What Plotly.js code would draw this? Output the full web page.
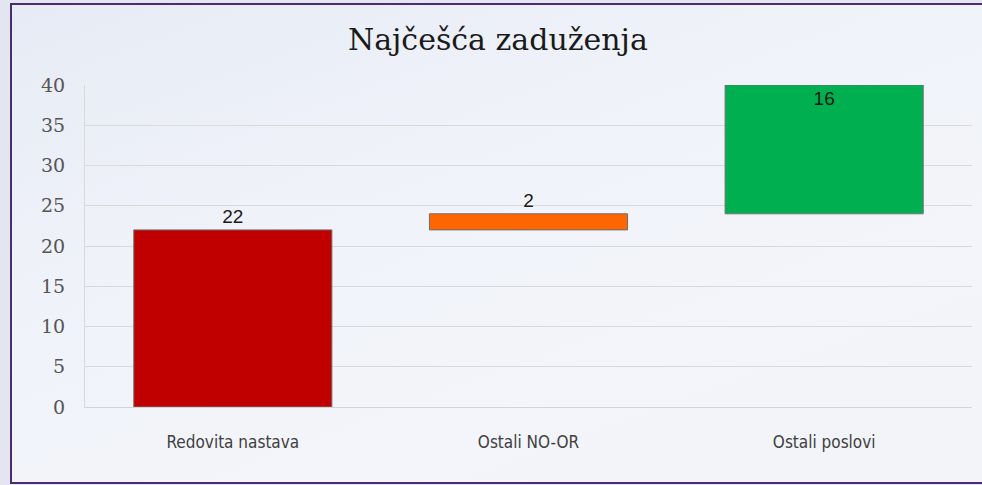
<!DOCTYPE html>
<html>
<head>
<meta charset="utf-8">
<script src="https://cdn.plot.ly/plotly-3.0.1.min.js"></script>
<style>
  html, body { margin: 0; padding: 0; width: 982px; height: 485px; overflow: hidden; background: #e3e5f0; }
  #frame { position: absolute; left: 10px; top: 3px; width: 990px; height: 477px;
           border-top: 2px solid #4b2d6f; border-left: 2px solid #4b2d6f; border-bottom: 2px solid #4b2d6f;
           background: linear-gradient(160deg, #e7ebf5 0%, #eff2f9 35%, #f3f5fa 70%, #f2f3f8 100%); }
  #chart { position: absolute; left: 0; top: 0; width: 982px; height: 485px; }
</style>
</head>
<body>
<div id="frame"></div>
<div id="chart"></div>
<script>
const categories = ['Redovita nastava', 'Ostali NO-OR', 'Ostali poslovi'];
const values = [22, 2, 16];
const bases = [0, 22, 24];
const barColors = ['#c00000', '#ff6600', '#00b050'];
const yTicks = [0, 5, 10, 15, 20, 25, 30, 35, 40];

const trace = {
  type: 'bar',
  x: categories,
  y: values,
  base: bases,
  marker: { color: barColors, line: { color: '#6f6f6f', width: 1 } },
  text: values.map(String),
  textposition: ['outside', 'outside', 'inside'],
  insidetextanchor: 'end',
  textangle: 0,
  textfont: { family: 'Liberation Sans, Arial, sans-serif', size: 19, color: '#1a1a1a' },
  cliponaxis: false,
  hoverinfo: 'skip'
};

const layout = {
  width: 982, height: 485,
  margin: { l: 85, r: 10, t: 85, b: 78 },
  paper_bgcolor: 'rgba(0,0,0,0)',
  plot_bgcolor: 'rgba(0,0,0,0)',
  showlegend: false,
  bargap: 0.33,
  title: { text: 'Najčešća zaduženja', x: 0.507, xanchor: 'center', y: 0.918, yanchor: 'middle',
           font: { family: 'DejaVu Serif, serif', size: 30, color: '#1a1a1a' } },
  xaxis: {
    type: 'category',
    showgrid: false,
    showline: true, linecolor: '#d4d4d4', linewidth: 1,
    ticks: 'outside', ticklen: 20, tickcolor: 'rgba(0,0,0,0)',
    tickfont: { family: 'DejaVu Sans Condensed, Liberation Sans Narrow, sans-serif', size: 17, color: '#404040' },
    fixedrange: true
  },
  yaxis: {
    range: [0, 40],
    tickvals: yTicks,
    ticktext: yTicks.map(String),
    showgrid: true, gridcolor: '#d9d9d9', gridwidth: 1,
    showline: true, linecolor: '#d9d9d9', linewidth: 1,
    zeroline: false,
    ticks: 'outside', ticklen: 15, tickcolor: 'rgba(0,0,0,0)',
    tickfont: { family: 'DejaVu Serif, serif', size: 19, color: '#555555' },
    fixedrange: true
  }
};

Plotly.newPlot('chart', [trace], layout, { displayModeBar: false, staticPlot: true });
</script>
</body>
</html>
